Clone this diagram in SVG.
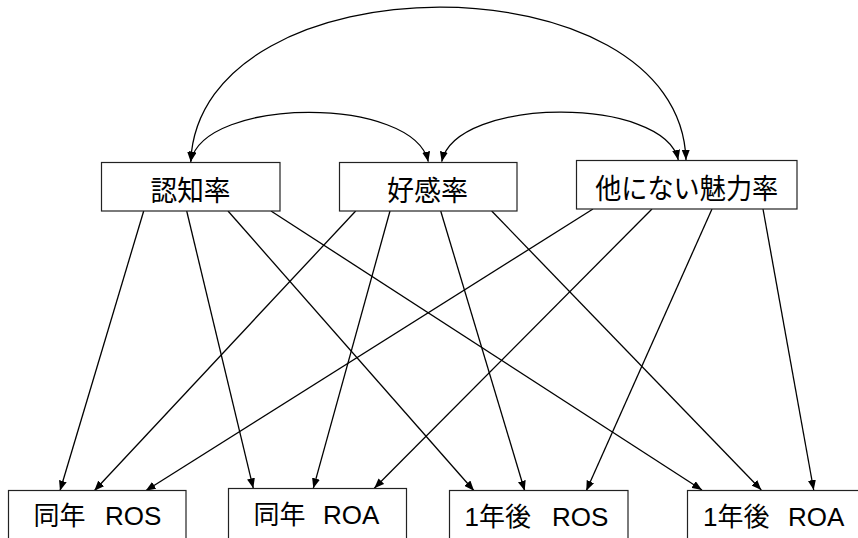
<svg xmlns="http://www.w3.org/2000/svg" width="858" height="538" viewBox="0 0 858 538">
<style>
  .box{fill:#fff;stroke:#222;stroke-width:1.2}
  .lbl{font-family:"Liberation Sans","Noto Sans CJK JP",sans-serif;font-size:26px;fill:#000}
  .top{font-size:28px}
  .c{fill:none;stroke:#000;stroke-width:1.3}
</style>
<defs>
  <marker id="ah" viewBox="0 0 10 8" refX="10" refY="4" markerWidth="10" markerHeight="8" markerUnits="userSpaceOnUse" orient="auto-start-reverse">
    <path d="M0,0 L10,4 L0,8 z" fill="#000"/>
  </marker>
</defs>
<rect width="858" height="538" fill="#fff"/>
<g id="connectors">
  <path class="c" d="M686,160 C680,-44 200,-44 190.7,161.7" marker-start="url(#ah)" marker-end="url(#ah)"/>
  <path class="c" d="M190.7,161.7 C204,96 414,96 428.3,161.7" marker-start="url(#ah)" marker-end="url(#ah)"/>
  <path class="c" d="M441.7,161.7 C456,96 664,96 678.3,160" marker-start="url(#ah)" marker-end="url(#ah)"/>
  <g marker-end="url(#ah)">
    <line class="c" x1="143.7" y1="211" x2="60" y2="490.7"/>
    <line class="c" x1="186.7" y1="211" x2="253.3" y2="488.3"/>
    <line class="c" x1="228" y1="211" x2="474" y2="490.7"/>
    <line class="c" x1="271" y1="211" x2="702" y2="490"/>
    <line class="c" x1="355.7" y1="211" x2="94.3" y2="490.7"/>
    <line class="c" x1="390" y1="211" x2="313.3" y2="488.3"/>
    <line class="c" x1="440.7" y1="211" x2="524.7" y2="490.7"/>
    <line class="c" x1="491.7" y1="211" x2="761.3" y2="490"/>
    <line class="c" x1="593" y1="209" x2="145.7" y2="490.7"/>
    <line class="c" x1="652" y1="209" x2="374.3" y2="488.3"/>
    <line class="c" x1="712" y1="209" x2="586.3" y2="490.7"/>
    <line class="c" x1="763" y1="209" x2="813.7" y2="490"/>
  </g>
</g>
<g id="n-ninchi">
  <rect class="box" x="101.5" y="162.5" width="178.5" height="48.5"/>
  <text class="lbl top" x="190.5" y="200.5" text-anchor="middle" textLength="80" lengthAdjust="spacingAndGlyphs">認知率</text>
</g>
<g id="n-koukan">
  <rect class="box" x="339.5" y="162.5" width="177.5" height="48.5"/>
  <text class="lbl top" x="427.5" y="200.5" text-anchor="middle" textLength="81" lengthAdjust="spacingAndGlyphs">好感率</text>
</g>
<g id="n-miryoku">
  <rect class="box" x="576.5" y="160.5" width="220.5" height="48.5"/>
  <text class="lbl top" x="686.7" y="198.5" text-anchor="middle" textLength="183" lengthAdjust="spacingAndGlyphs">他にない魅力率</text>
</g>
<g id="n-ros0">
  <rect class="box" x="8.5" y="490.5" width="177.5" height="60"/>
  <text class="lbl" x="33.5" y="525">同年<tspan x="105">ROS</tspan></text>
</g>
<g id="n-roa0">
  <rect class="box" x="228.5" y="488.5" width="178" height="60"/>
  <text class="lbl" x="253.5" y="524">同年<tspan x="323">ROA</tspan></text>
</g>
<g id="n-ros1">
  <rect class="box" x="449.5" y="490.5" width="178.5" height="60"/>
  <text class="lbl" x="464.5" y="526">1年後<tspan x="552">ROS</tspan></text>
</g>
<g id="n-roa1">
  <rect class="box" x="687.5" y="490.5" width="180" height="60"/>
  <text class="lbl" x="703" y="526">1年後<tspan x="788">ROA</tspan></text>
</g>
</svg>
